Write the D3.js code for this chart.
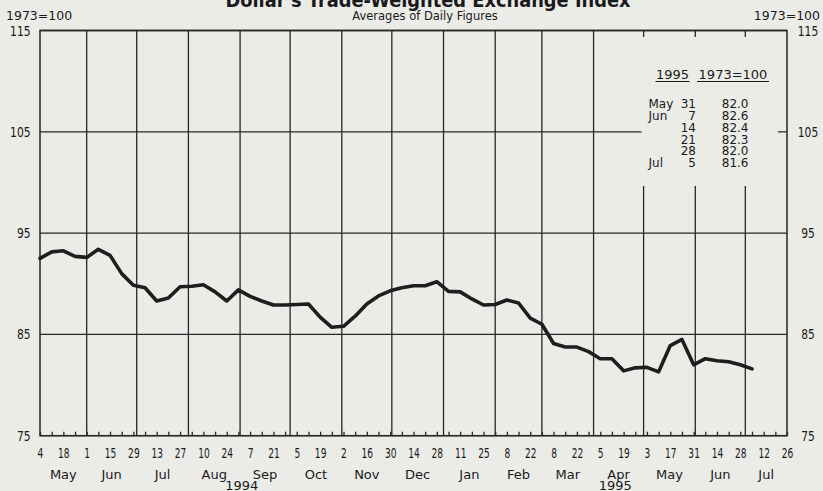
<!DOCTYPE html>
<html><head><meta charset="utf-8">
<script src="https://cdn.jsdelivr.net/npm/d3@7"></script>
<style>
html,body{margin:0;padding:0;background:#ebebe8;}
svg{display:block;}
</style></head><body>
<svg id="c" width="823" height="491"></svg>
<script>
// ---------- data ----------
const firstWeek = "1994-05-04";
const lastTick = "1995-07-26";
const indexValues = [
  92.5, 93.15, 93.25, 92.7, 92.6, 93.4, 92.8, 91.0, 89.85, 89.6,
  88.3, 88.6, 89.7, 89.75, 89.9, 89.2, 88.3, 89.4, 88.75, 88.3,
  87.9, 87.9, 87.95, 88.0, 86.7, 85.7, 85.8, 86.8, 88.0, 88.8,
  89.3, 89.6, 89.8, 89.8, 90.2, 89.25, 89.2, 88.5, 87.9, 87.95,
  88.4, 88.1, 86.6, 86.0, 84.1, 83.75, 83.75, 83.3, 82.6, 82.6,
  81.4, 81.7, 81.75, 81.3, 83.9, 84.5, 82.0, 82.6, 82.4, 82.3,
  82.0, 81.6
];
const yTickValues = [75, 85, 95, 105, 115];
const monthLabels = ["May","Jun","Jul","Aug","Sep","Oct","Nov","Dec","Jan","Feb","Mar","Apr","May","Jun","Jul"];
const yearLabels = ["1994","1995"];
const tableMonths = ["May","Jun","","","","Jul"];
const tableDays = ["31","7","14","21","28","5"];
const tableValues = ["82.0","82.6","82.4","82.3","82.0","81.6"];
const titleText = "Dollar's Trade-Weighted Exchange Index";
const subtitleText = "Averages of Daily Figures";
const unitText = "1973=100";
const tableHeader = ["1995","1973=100"];

// ---------- setup ----------
const parse = d3.timeParse("%Y-%m-%d");
const t0 = parse(firstWeek), t1 = parse(lastTick);
const dates = indexValues.map((v,i)=>d3.timeDay.offset(t0, 7*i));
const data = indexValues.map((v,i)=>({date:dates[i], value:v}));

const L = 40, R = 787, T = 30.5, B = 435.7;
const x = d3.scaleTime().domain([t0, t1]).range([L, R]);
const y = d3.scaleLinear().domain([75, 115]).range([B, T]);

const svg = d3.select("#c");
const ink = "#262626";
const bg = "#ebebe8";
const textFont = "'DejaVu Sans', Verdana, sans-serif";
const numFont = "'Liberation Sans Narrow', 'DejaVu Sans Condensed', 'Arial Narrow', sans-serif";

svg.append("rect").attr("width",823).attr("height",491).attr("fill",bg);

// horizontal gridlines
svg.append("g").selectAll("line").data(yTickValues).join("line")
  .attr("x1",L).attr("x2",R).attr("y1",d=>y(d)).attr("y2",d=>y(d))
  .attr("stroke",ink).attr("stroke-width",1.3);

// vertical month gridlines
const monthStarts = d3.timeMonth.range(d3.timeMonth.ceil(d3.timeDay.offset(t0,1)), t1);
svg.append("g").selectAll("line").data(monthStarts).join("line")
  .attr("x1",d=>x(d)).attr("x2",d=>x(d)).attr("y1",T).attr("y2",B)
  .attr("stroke",ink).attr("stroke-width",1.3);

// frame
svg.append("rect").attr("x",L).attr("y",T).attr("width",R-L).attr("height",B-T)
  .attr("fill","none").attr("stroke",ink).attr("stroke-width",1.5);

// legend box (blank panel)
const boxX = x(parse("1995-05-01")) - 2;
svg.append("rect").attr("x",boxX).attr("y",37).attr("width",778-boxX).attr("height",149).attr("fill",bg);

// table
const tg = svg.append("g").attr("font-family",textFont).attr("fill","#1a1a1a");
tg.append("text").attr("x",672.5).attr("y",79).attr("text-anchor","middle").attr("font-size",13).text(tableHeader[0]);
tg.append("text").attr("x",733).attr("y",79).attr("text-anchor","middle").attr("font-size",13).text(tableHeader[1]);
tg.append("line").attr("x1",655.5).attr("x2",689.5).attr("y1",81.5).attr("y2",81.5).attr("stroke","#1a1a1a").attr("stroke-width",1.2);
tg.append("line").attr("x1",697).attr("x2",769).attr("y1",81.5).attr("y2",81.5).attr("stroke","#1a1a1a").attr("stroke-width",1.2);
const rowY = i => 107.8 + i*11.9;
tg.selectAll("text.m").data(tableMonths).join("text").attr("class","m")
  .attr("x",648.5).attr("y",(d,i)=>rowY(i)).attr("font-size",12).text(d=>d);
tg.selectAll("text.d").data(tableDays).join("text").attr("class","d")
  .attr("x",696).attr("y",(d,i)=>rowY(i)).attr("text-anchor","end").attr("font-size",12).text(d=>d);
tg.selectAll("text.v").data(tableValues).join("text").attr("class","v")
  .attr("x",748.5).attr("y",(d,i)=>rowY(i)).attr("text-anchor","end").attr("font-size",12).text(d=>d);

// x axis: weekly ticks, labels every two weeks
const weeks = d3.timeWednesday.range(t0, d3.timeDay.offset(t1,1));
const fmtDay = d3.timeFormat("%-d");
const xAxis = d3.axisBottom(x).tickValues(weeks).tickSizeInner(-4).tickSizeOuter(0).tickPadding(12)
  .tickFormat((d,i)=> i%2===0 ? fmtDay(d) : "");
const ax = svg.append("g").attr("transform",`translate(0,${B})`).call(xAxis);
ax.select(".domain").remove();
ax.selectAll(".tick line").attr("stroke",ink).attr("stroke-width",1.3);
ax.selectAll(".tick text").attr("font-family",numFont).attr("font-size",14).attr("fill","#1a1a1a")
  .attr("transform","scale(0.72,1)");

// month labels
const monthsAll = d3.timeMonth.range(d3.timeMonth.floor(t0), t1);
svg.append("g").selectAll("text").data(monthsAll).join("text")
  .attr("x",(d,i)=>{
    const a = d < t0 ? t0 : d;
    const n = d3.timeMonth.offset(d,1);
    const b = n > t1 ? t1 : n;
    return (x(a)+x(b))/2;
  })
  .attr("y",478.5).attr("text-anchor","middle").attr("font-family",textFont).attr("font-size",13)
  .attr("fill","#1a1a1a").text((d,i)=>monthLabels[i]);

// year labels
const yearStart = parse("1995-01-01");
const yearSpans = [[t0, yearStart],[yearStart, t1]];
svg.append("g").selectAll("text").data(yearSpans).join("text")
  .attr("x",d=>(x(d[0])+x(d[1]))/2).attr("y",489.5).attr("text-anchor","middle")
  .attr("font-family",textFont).attr("font-size",13).attr("fill","#1a1a1a").text((d,i)=>yearLabels[i]);

// y labels both sides
const yl = svg.append("g").attr("font-family",numFont).attr("font-size",14).attr("fill","#1a1a1a");
yl.selectAll("text.l").data(yTickValues).join("text").attr("class","l")
  .attr("text-anchor","end").attr("transform",d=>`translate(30.5,${y(d)+5}) scale(0.85,1)`).text(d=>d);
yl.selectAll("text.r").data(yTickValues).join("text").attr("class","r")
  .attr("text-anchor","middle").attr("transform",d=>`translate(808,${y(d)+5}) scale(0.85,1)`).text(d=>d);

// titles
svg.append("text").attr("x",428).attr("y",6.5).attr("text-anchor","middle")
  .attr("font-family",textFont).attr("font-weight","bold").attr("font-size",20)
  .attr("textLength",405).attr("lengthAdjust","spacingAndGlyphs").attr("fill","#1a1a1a").text(titleText);
svg.append("text").attr("x",425).attr("y",19.5).attr("text-anchor","middle")
  .attr("font-family",textFont).attr("font-size",11.5).attr("fill","#1a1a1a").text(subtitleText);
svg.append("text").attr("x",6).attr("y",19.5).attr("font-family",textFont).attr("font-size",12.5)
  .attr("fill","#1a1a1a").text(unitText);
svg.append("text").attr("x",820).attr("y",19.5).attr("text-anchor","end").attr("font-family",textFont).attr("font-size",12.5)
  .attr("fill","#1a1a1a").text(unitText);

// data line
svg.append("path").datum(data)
  .attr("d", d3.line().x(d=>x(d.date)).y(d=>y(d.value)))
  .attr("fill","none").attr("stroke","#1e1e1e").attr("stroke-width",3.6)
  .attr("stroke-linejoin","round").attr("stroke-linecap","round");
</script>
</body></html>
